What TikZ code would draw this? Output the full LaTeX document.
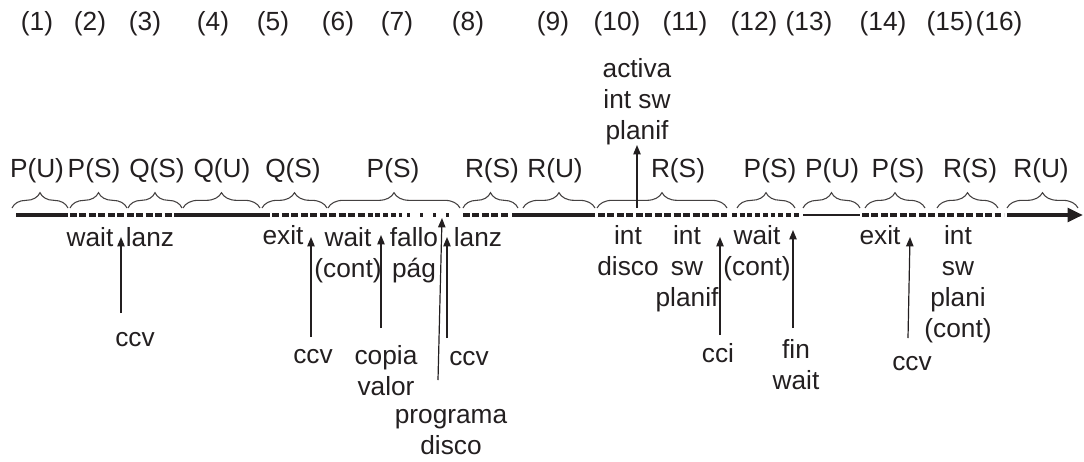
\documentclass[tikz,border=0pt]{standalone}
\usepackage{fontspec}
\setmainfont{Liberation Sans}
\usetikzlibrary{decorations.pathreplacing,arrows.meta}
\definecolor{ink}{RGB}{35,31,32}
\begin{document}
\begin{tikzpicture}[x=0.75pt,y=-0.75pt,
  every node/.style={inner sep=0pt, text=ink, font=\fontsize{19.7}{23.25}\selectfont},
  % base of a multi-line label is the baseline of its last line
  lbl/.style={anchor=base, align=center},
  brc/.style={draw=ink!85, line width=0.8pt, decorate, decoration={brace, amplitude=11.5pt}},
  evt/.style={draw=ink, line width=0.9pt, -{Triangle[length=7pt,width=5.5pt]}},
  usr/.style={draw=ink, line width=3pt},
  thinusr/.style={draw=ink, line width=1.6pt},
  sys/.style={draw=ink, line width=3pt, dash pattern=on 5.2pt off 1.9pt},
  sysb/.style={draw=ink, line width=3pt, dash pattern=on 3.6pt off 2.2pt},
  waitseg/.style={draw=ink, line width=3pt, dash pattern=on 2.2pt off 7.6pt},
]
\useasboundingbox (0,0) rectangle (1084,461);

% interval numbers
\foreach \n/\x in {1/37,2/90,3/145,4/213,5/273,6/338,7/397,8/468,9/553,10/617,11/685,12/754,13/809,14/883,15/950,16/999}
  \node[lbl] (num\n) at (\x,30) {(\n)};

% process and mode of each interval
\foreach \i/\x/\t in {1/37/P(U),2/94/P(S),3/157/Q(S),4/222/Q(U),5/293/Q(S),6/393/P(S),7/492/R(S),8/555/R(U),9/678/R(S),10/770/P(S),11/832/P(U),12/898/P(S),13/970/R(S),14/1041/R(U)}
  \node[lbl] (st\i) at (\x,177) {\t};

% braces grouping the intervals
\foreach \a/\b in {12/68,70/127,128/182,183/260,262/327,328/460,463/518,523/595,597/727,737/795,803/860,865/925,937/998,1007/1078}
  \draw[brc] (\a,208) -- (\b,208);

% time line: solid = user mode, dashed = kernel mode, dotted = waiting
\coordinate (t0) at (16,215);
\coordinate (t1) at (68,215);
\coordinate (t2) at (70,215);
\coordinate (t3) at (176,215);
\coordinate (t4) at (263,215);
\coordinate (t5) at (360,215);
\coordinate (t6) at (402,215);
\coordinate (t7) at (407,215);
\coordinate (t8) at (455,215);
\coordinate (t9) at (463,215);
\coordinate (t10) at (510,215);
\coordinate (t11) at (512,215);
\coordinate (t12) at (595,215);
\coordinate (t13) at (598,215);
\coordinate (t14) at (727,215);
\coordinate (t15) at (732,215);
\coordinate (t16) at (801,215);
\coordinate (t17) at (803,215);
\coordinate (t18) at (860,215);
\coordinate (t19) at (862,215);
\coordinate (t20) at (1004,215);
\coordinate (t21) at (1007,215);
\coordinate (t22) at (1083,215);
\path[usr] (t0) -- (t1);
\path[sys] (t2) -- (t3);
\path[usr] (t3) -- (t4);
\path[sys] (t4) -- (t5);
\path[sysb] (t5) -- (t6);
\path[waitseg] (t7) -- (t8);
\path[sys] (t9) -- (t10);
\path[usr] (t11) -- (t12);
\path[sys] (t13) -- (t14);
\path[sysb] (t15) -- (t16);
\path[thinusr] (t17) -- (t18);
\path[sys] (t19) -- (t20);
\path[usr, -{Triangle[length=11.5pt,width=10pt]}] (t21) -- (t22);

% events above the line
\node[lbl] (activa) at (637,139) {activa\\int sw\\planif};
\coordinate (activaFrom) at (637,208);
\coordinate (activaTo) at (637,145);
\draw[evt] (activaFrom) -- (activaTo);

% events below the line
\node[lbl] (wait1) at (90,246) {wait};
\node[lbl] (lanz1) at (150,246) {lanz};
\node[lbl] (ccv1) at (135,346) {ccv};
\coordinate (ccv1From) at (121,313);
\coordinate (ccv1To) at (121,237);
\draw[evt] (ccv1From) -- (ccv1To);

\node[lbl] (exit1) at (283,244) {exit};
\node[lbl] (ccv2) at (313,363) {ccv};
\coordinate (ccv2From) at (311,337);
\coordinate (ccv2To) at (311,237);
\draw[evt] (ccv2From) -- (ccv2To);

\node[lbl] (waitc1) at (348,277) {wait\\(cont)};
\node[lbl] (copia) at (386,395) {copia\\valor};
\coordinate (copiaFrom) at (381,328);
\coordinate (copiaTo) at (381,235);
\draw[evt] (copiaFrom) -- (copiaTo);

\node[lbl] (fallo) at (414,277) {fallo\\pág};
\node[lbl] (prog) at (451,454) {programa\\disco};
\coordinate (progFrom) at (438,380);
\coordinate (progTo) at (442,218);
\draw[evt] (progFrom) -- (progTo);

\node[lbl] (lanz2) at (478,246) {lanz};
\node[lbl] (ccv3) at (469,365) {ccv};
\coordinate (ccv3From) at (447,338);
\coordinate (ccv3To) at (447,237);
\draw[evt] (ccv3From) -- (ccv3To);

\node[lbl] (intdisco) at (628,275) {int\\disco};
\node[lbl] (intsw) at (687,306) {int\\sw\\planif};
\node[lbl] (cci) at (718,362) {cci};
\coordinate (cciFrom) at (720,335);
\coordinate (cciTo) at (720,237);
\draw[evt] (cciFrom) -- (cciTo);

\node[lbl] (waitc2) at (757,275) {wait\\(cont)};
\node[lbl] (finwait) at (796,389) {fin\\wait};
\coordinate (finFrom) at (793,328);
\coordinate (finTo) at (793,230);
\draw[evt] (finFrom) -- (finTo);

\node[lbl] (exit2) at (880,244) {exit};
\node[lbl] (ccv4) at (912,370) {ccv};
\coordinate (ccv4From) at (908,338);
\coordinate (ccv4To) at (910,237);
\draw[evt] (ccv4From) -- (ccv4To);

\node[lbl] (intswc) at (958,337) {int\\sw\\plani\\(cont)};
\end{tikzpicture}
\end{document}
